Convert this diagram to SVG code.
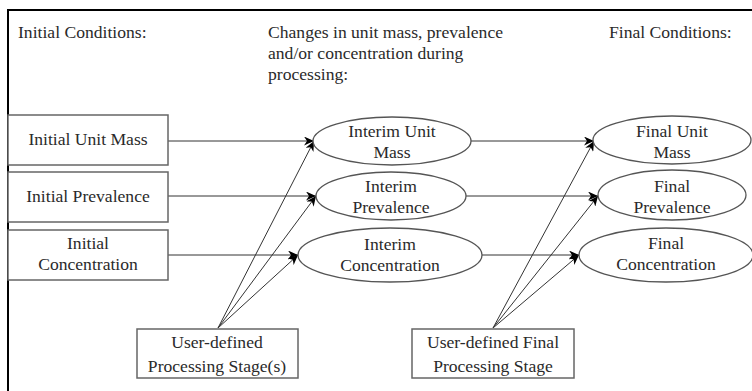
<svg xmlns="http://www.w3.org/2000/svg" width="752" height="391" viewBox="0 0 752 391">
<style>
text{font-family:"Liberation Serif","DejaVu Serif",serif;font-size:17.6px;fill:#2a2a2a}
.c{text-anchor:middle}
.box{fill:#fff;stroke:#666;stroke-width:1.5}
.ell{fill:#fff;stroke:#555;stroke-width:1.3}
.ln{stroke:#333;stroke-width:1;fill:none;marker-end:url(#ah)}
</style>
<defs>
<marker id="ah" markerWidth="11" markerHeight="9" refX="10" refY="4.5" orient="auto" markerUnits="userSpaceOnUse">
<path d="M0,0 L10,4.5 L0,9 L3,4.5 Z" fill="#000"/>
</marker>
</defs>
<rect width="752" height="391" fill="#fff"/>
<path d="M8,391 V10 H752" fill="none" stroke="#000" stroke-width="2"/>
<g id="headers">
<text x="18" y="38">Initial Conditions:</text>
<text x="268" y="38">Changes in unit mass, prevalence</text>
<text x="268" y="59">and/or concentration during</text>
<text x="268" y="80">processing:</text>
<text x="609" y="38">Final Conditions:</text>
</g>
<g id="connectors">
<path class="ln" d="M168,141 H314"/>
<path class="ln" d="M168,196 H316"/>
<path class="ln" d="M168,255 H298"/>
<path class="ln" d="M218,328 L314,141"/>
<path class="ln" d="M218,328 L316,196"/>
<path class="ln" d="M218,328 L298,255"/>
<path class="ln" d="M471,141 H594"/>
<path class="ln" d="M465,196 H598"/>
<path class="ln" d="M482,255 H579"/>
<path class="ln" d="M493,328 L594,141"/>
<path class="ln" d="M493,328 L598,196"/>
<path class="ln" d="M493,328 L579,255"/>
</g>
<g id="initial-unit-mass">
<rect class="box" x="8" y="115" width="160" height="50"/>
<text class="c" x="88" y="145">Initial Unit Mass</text>
</g>
<g id="initial-prevalence">
<rect class="box" x="8" y="172" width="160" height="50"/>
<text class="c" x="88" y="202">Initial Prevalence</text>
</g>
<g id="initial-concentration">
<rect class="box" x="8" y="230" width="160" height="50"/>
<text class="c" x="88" y="249">Initial</text>
<text class="c" x="88" y="270">Concentration</text>
</g>
<g id="interim-unit-mass">
<ellipse class="ell" cx="392" cy="141" rx="79" ry="24"/>
<text class="c" x="392" y="137">Interim Unit</text>
<text class="c" x="392" y="158">Mass</text>
</g>
<g id="interim-prevalence">
<ellipse class="ell" cx="391" cy="196" rx="75" ry="24"/>
<text class="c" x="391" y="192">Interim</text>
<text class="c" x="391" y="213">Prevalence</text>
</g>
<g id="interim-concentration">
<ellipse class="ell" cx="390" cy="255" rx="92" ry="27"/>
<text class="c" x="390" y="250">Interim</text>
<text class="c" x="390" y="271">Concentration</text>
</g>
<g id="final-unit-mass">
<ellipse class="ell" cx="672" cy="140" rx="79" ry="24"/>
<text class="c" x="672" y="137">Final Unit</text>
<text class="c" x="672" y="158">Mass</text>
</g>
<g id="final-prevalence">
<ellipse class="ell" cx="672" cy="195" rx="74" ry="25"/>
<text class="c" x="672" y="192">Final</text>
<text class="c" x="672" y="213">Prevalence</text>
</g>
<g id="final-concentration">
<ellipse class="ell" cx="666" cy="255" rx="87" ry="27"/>
<text class="c" x="666" y="249">Final</text>
<text class="c" x="666" y="270">Concentration</text>
</g>
<g id="processing-stages">
<rect class="box" x="137" y="329" width="161" height="49"/>
<text class="c" x="217" y="348">User-defined</text>
<text class="c" x="217" y="372">Processing Stage(s)</text>
</g>
<g id="final-processing-stage">
<rect class="box" x="412" y="329" width="162" height="49"/>
<text class="c" x="493" y="348">User-defined Final</text>
<text class="c" x="493" y="372">Processing Stage</text>
</g>
</svg>
